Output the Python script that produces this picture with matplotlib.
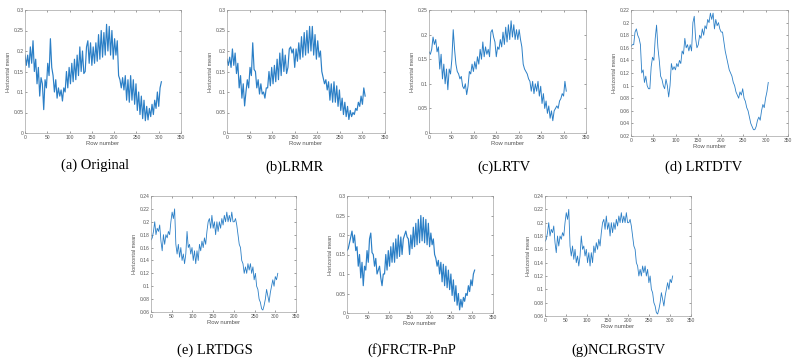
import numpy as np
import matplotlib
matplotlib.use("Agg")
import matplotlib.pyplot as plt
from matplotlib.ticker import FuncFormatter

# ---- data (horizontal mean per row, sampled every 3 rows) ----
row_step = 3

original = [0.19, 0.165, 0.19, 0.16, 0.21, 0.17, 0.225, 0.15, 0.18, 0.12,
            0.16, 0.09, 0.135, 0.12, 0.057, 0.13, 0.11, 0.17, 0.14, 0.23,
            0.16, 0.14, 0.10, 0.13, 0.085, 0.11, 0.09, 0.105, 0.078, 0.11,
            0.10, 0.15, 0.11, 0.16, 0.12, 0.17, 0.125, 0.18, 0.13, 0.19,
            0.14, 0.21, 0.15, 0.20, 0.145, 0.15, 0.21, 0.225, 0.17, 0.22,
            0.165, 0.21, 0.17, 0.22, 0.175, 0.24, 0.18, 0.25, 0.185, 0.245,
            0.19, 0.265, 0.20, 0.26, 0.19, 0.25, 0.18, 0.23, 0.19, 0.225,
            0.14, 0.13, 0.11, 0.135, 0.105, 0.14, 0.08, 0.13, 0.075, 0.14,
            0.08, 0.13, 0.07, 0.12, 0.055, 0.10, 0.045, 0.09, 0.035, 0.08,
            0.03, 0.065, 0.032, 0.06, 0.04, 0.07, 0.045, 0.08, 0.06, 0.10,
            0.065, 0.11, 0.125]

lrmr = [0.18, 0.165, 0.185, 0.16, 0.205, 0.165, 0.195, 0.145, 0.17, 0.11,
        0.14, 0.085, 0.12, 0.066, 0.10, 0.13, 0.11, 0.16, 0.14, 0.22,
        0.155, 0.15, 0.11, 0.13, 0.095, 0.12, 0.095, 0.10, 0.085, 0.11,
        0.11, 0.15, 0.115, 0.16, 0.12, 0.165, 0.125, 0.18, 0.13, 0.195,
        0.14, 0.205, 0.15, 0.19, 0.145, 0.16, 0.205, 0.21, 0.195, 0.205,
        0.16, 0.205, 0.175, 0.22, 0.18, 0.235, 0.185, 0.245, 0.19, 0.25,
        0.195, 0.26, 0.20, 0.26, 0.19, 0.24, 0.18, 0.225, 0.185, 0.20,
        0.15, 0.135, 0.12, 0.13, 0.105, 0.125, 0.08, 0.12, 0.075, 0.125,
        0.075, 0.115, 0.065, 0.105, 0.055, 0.085, 0.045, 0.075, 0.04, 0.065,
        0.033, 0.055, 0.04, 0.05, 0.045, 0.06, 0.055, 0.075, 0.065, 0.09,
        0.07, 0.11, 0.09]

lrtv = [0.165, 0.16, 0.17, 0.195, 0.18, 0.19, 0.165, 0.175, 0.13, 0.16,
        0.11, 0.14, 0.10, 0.13, 0.088, 0.13, 0.12, 0.15, 0.21, 0.17,
        0.14, 0.125, 0.12, 0.11, 0.115, 0.095, 0.09, 0.10, 0.078, 0.095,
        0.125, 0.12, 0.14, 0.125, 0.145, 0.13, 0.155, 0.14, 0.17, 0.15,
        0.185, 0.155, 0.175, 0.16, 0.17, 0.155, 0.205, 0.21, 0.195, 0.185,
        0.155, 0.175, 0.17, 0.19, 0.175, 0.205, 0.18, 0.215, 0.185, 0.22,
        0.19, 0.228, 0.195, 0.22, 0.19, 0.21, 0.19, 0.21, 0.19, 0.175,
        0.14, 0.13, 0.125, 0.12, 0.11, 0.105, 0.085, 0.105, 0.08, 0.10,
        0.085, 0.105, 0.075, 0.095, 0.06, 0.08, 0.05, 0.065, 0.04, 0.055,
        0.03, 0.045, 0.025, 0.045, 0.05, 0.055, 0.05, 0.065, 0.07, 0.08,
        0.075, 0.105, 0.085]

lrtdtv = [0.162, 0.165, 0.165, 0.185, 0.19, 0.18, 0.175, 0.165, 0.12, 0.125,
          0.105, 0.115, 0.10, 0.095, 0.095, 0.13, 0.145, 0.14, 0.175, 0.196,
          0.16, 0.14, 0.115, 0.11, 0.10, 0.095, 0.11, 0.10, 0.082, 0.10,
          0.135, 0.125, 0.13, 0.125, 0.135, 0.13, 0.14, 0.135, 0.155, 0.15,
          0.175, 0.16, 0.165, 0.155, 0.165, 0.155, 0.20, 0.21, 0.175, 0.16,
          0.165, 0.18, 0.175, 0.19, 0.18, 0.195, 0.19, 0.205, 0.20, 0.215,
          0.205, 0.215, 0.19, 0.205, 0.195, 0.20, 0.19, 0.185, 0.185, 0.17,
          0.155, 0.145, 0.135, 0.125, 0.12, 0.115, 0.105, 0.10, 0.09, 0.085,
          0.08, 0.09, 0.085, 0.095, 0.08, 0.075, 0.065, 0.06, 0.05, 0.04,
          0.035, 0.03, 0.03, 0.035, 0.045, 0.05, 0.045, 0.06, 0.07, 0.065,
          0.08, 0.09, 0.105]

lrtdgs = [0.172, 0.175, 0.185, 0.20, 0.18, 0.19, 0.185, 0.195, 0.17, 0.155,
          0.18, 0.165, 0.18, 0.175, 0.185, 0.18, 0.20, 0.215, 0.205, 0.22,
          0.165, 0.15, 0.165, 0.145, 0.16, 0.14, 0.15, 0.135, 0.15, 0.185,
          0.16, 0.165, 0.15, 0.16, 0.14, 0.155, 0.135, 0.155, 0.14, 0.165,
          0.155, 0.17, 0.16, 0.175, 0.165, 0.185, 0.20, 0.205, 0.19, 0.21,
          0.19, 0.20, 0.18, 0.20, 0.185, 0.20, 0.19, 0.205, 0.195, 0.21,
          0.20, 0.215, 0.20, 0.21, 0.20, 0.215, 0.20, 0.20, 0.205, 0.195,
          0.18, 0.165, 0.16, 0.14, 0.135, 0.12, 0.13, 0.12, 0.135, 0.125,
          0.135, 0.12, 0.13, 0.11, 0.12, 0.10, 0.095, 0.08, 0.075, 0.065,
          0.063, 0.07, 0.08, 0.095, 0.085, 0.075, 0.09, 0.10, 0.11, 0.10,
          0.115, 0.11, 0.12]

frctr = [0.16, 0.165, 0.18, 0.195, 0.21, 0.18, 0.20, 0.16, 0.17, 0.12,
         0.15, 0.09, 0.13, 0.07, 0.12, 0.11, 0.16, 0.13, 0.19, 0.205,
         0.155, 0.15, 0.12, 0.14, 0.10, 0.11, 0.12, 0.09, 0.07, 0.10,
         0.10, 0.15, 0.11, 0.16, 0.12, 0.17, 0.13, 0.18, 0.13, 0.19,
         0.14, 0.20, 0.145, 0.195, 0.15, 0.19, 0.20, 0.21, 0.195, 0.19,
         0.15, 0.20, 0.165, 0.22, 0.17, 0.23, 0.175, 0.24, 0.18, 0.25,
         0.185, 0.245, 0.18, 0.24, 0.175, 0.23, 0.17, 0.205, 0.175, 0.19,
         0.15, 0.14, 0.12, 0.135, 0.10, 0.13, 0.08, 0.125, 0.07, 0.12,
         0.065, 0.11, 0.06, 0.10, 0.045, 0.085, 0.03, 0.07, 0.02, 0.05,
         0.008, 0.035, 0.015, 0.04, 0.03, 0.05, 0.045, 0.07, 0.055, 0.085,
         0.07, 0.10, 0.11]

nclrgstv = [0.172, 0.175, 0.185, 0.20, 0.18, 0.19, 0.185, 0.195, 0.17, 0.155,
            0.18, 0.165, 0.18, 0.175, 0.185, 0.18, 0.20, 0.215, 0.205, 0.22,
            0.165, 0.15, 0.165, 0.145, 0.16, 0.14, 0.15, 0.135, 0.15, 0.18,
            0.16, 0.165, 0.15, 0.16, 0.14, 0.155, 0.135, 0.155, 0.14, 0.165,
            0.155, 0.17, 0.16, 0.175, 0.165, 0.185, 0.20, 0.205, 0.19, 0.21,
            0.19, 0.20, 0.18, 0.20, 0.185, 0.20, 0.19, 0.205, 0.195, 0.21,
            0.20, 0.215, 0.20, 0.21, 0.20, 0.215, 0.20, 0.20, 0.205, 0.195,
            0.18, 0.165, 0.16, 0.14, 0.135, 0.12, 0.13, 0.12, 0.135, 0.125,
            0.135, 0.12, 0.13, 0.11, 0.12, 0.10, 0.095, 0.08, 0.075, 0.065,
            0.063, 0.07, 0.08, 0.095, 0.085, 0.075, 0.09, 0.10, 0.11, 0.10,
            0.115, 0.11, 0.12]

captions = ["(a) Original", "(b)LRMR", "(c)LRTV", "(d) LRTDTV",
            "(e) LRTDGS", "(f)FRCTR-PnP", "(g)NCLRGSTV"]
series = [original, lrmr, lrtv, lrtdtv, lrtdgs, frctr, nclrgstv]
ylims = [(0, 0.3), (0, 0.3), (0, 0.25), (0.02, 0.22),
         (0.06, 0.24), (0, 0.3), (0.06, 0.24)]
ysteps = [0.05, 0.05, 0.05, 0.02, 0.02, 0.05, 0.02]
xticks = [0, 50, 100, 150, 200, 250, 300, 350]

# ---- style / layout (pixel boxes: left, right, top, bottom) ----
line_widths = [0.85, 0.85, 0.7, 0.6, 0.6, 0.85, 0.6]
W, H = 798, 362
boxes = [(25, 181, 10, 133), (227, 385, 10, 133), (429, 586, 10, 133),
         (631, 788, 10, 136), (151, 296, 196, 312), (347, 493, 196, 313),
         (545, 691, 196, 316)]
cap_pos = [(95, 165), (295, 167), (504, 167), (704, 167),
           (215, 350), (412, 350), (619, 350)]

fig = plt.figure(figsize=(W / 100, H / 100), dpi=100)
fig.patch.set_facecolor("white")

fmt = FuncFormatter(lambda v, p: f"{round(v, 4):g}")

for vals, cap, yl, ys, lw, (l, r, t, b), (cx, cy) in zip(
        series, captions, ylims, ysteps, line_widths, boxes, cap_pos):
    ax = fig.add_axes([l / W, 1 - b / H, (r - l) / W, (b - t) / H])
    rows = np.arange(len(vals)) * row_step
    ax.plot(rows, vals, color="#2b7fc6", linewidth=lw)
    ax.set_xlim(0, 350)
    ax.set_ylim(*yl)
    ax.set_xticks(xticks)
    yt = np.arange(yl[0], yl[1] + 1e-9, ys)
    ax.set_yticks(yt)
    ax.yaxis.set_major_formatter(fmt)
    ax.tick_params(direction="in", length=1.2, width=0.4, labelsize=3.6,
                   colors="#555555", pad=1.2, top=True, right=True)
    for s in ax.spines.values():
        s.set_linewidth(0.45)
        s.set_color("#9a9a9a")
    ax.set_xlabel("Row number", fontsize=4.2, color="#555555", labelpad=1,
                  family="Liberation Sans")
    ax.set_ylabel("Horizontal mean", fontsize=4.0, color="#555555",
                  labelpad=1.5, family="Liberation Sans")
    for lab in ax.get_xticklabels() + ax.get_yticklabels():
        lab.set_family("Liberation Sans")
    fig.text(cx / W, 1 - cy / H, cap, ha="center", va="center",
             fontsize=10.5, family="Liberation Serif", color="black")

fig.savefig("out.png", dpi=100, facecolor="white")
